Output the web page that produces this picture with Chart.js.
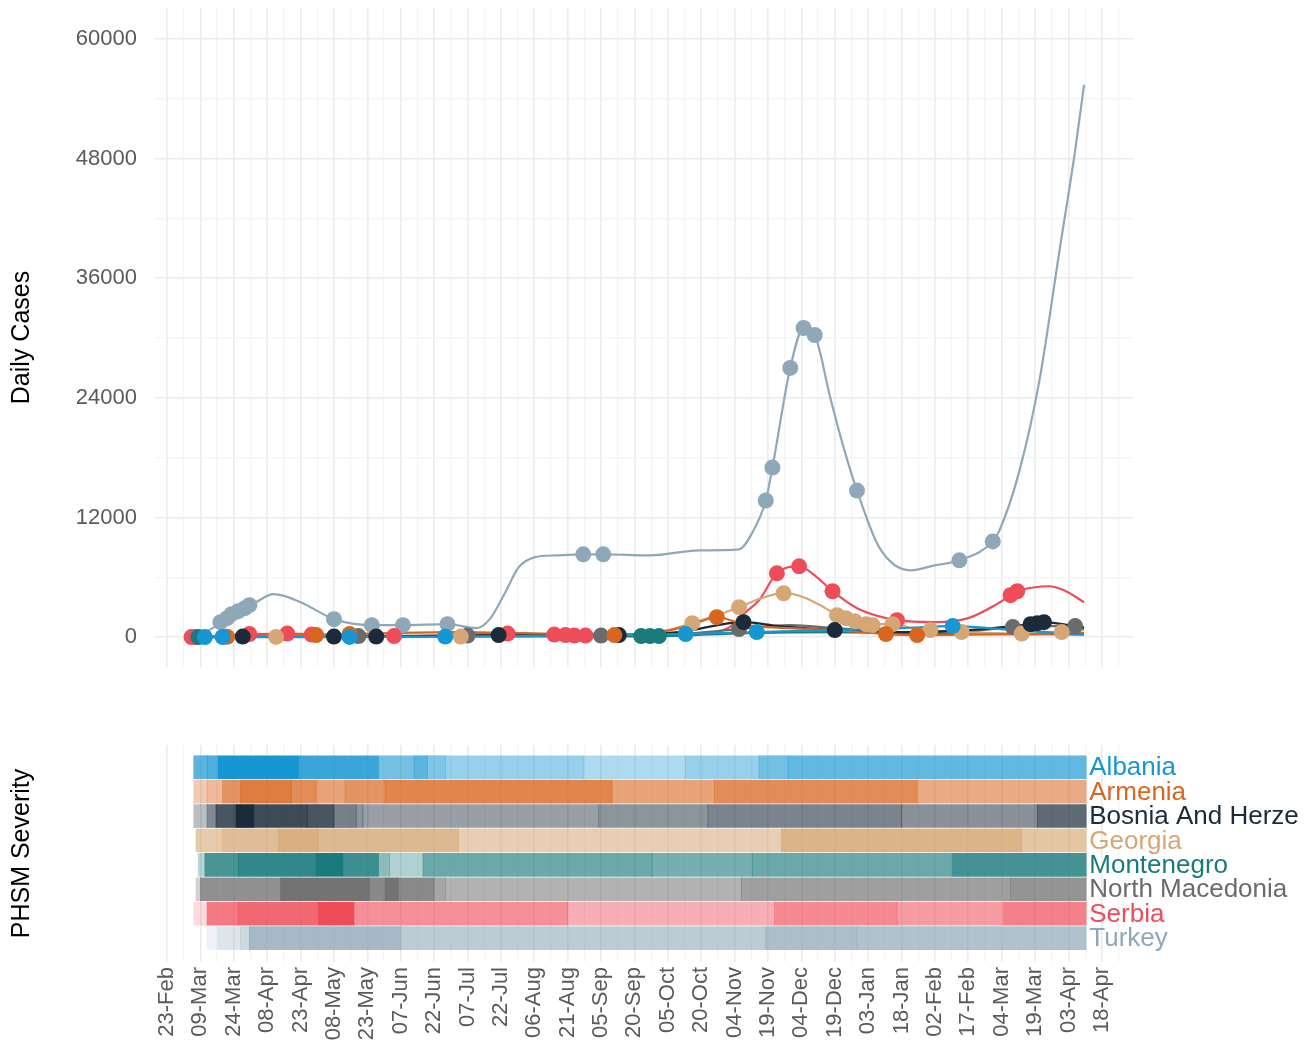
<!DOCTYPE html>
<html>
<head>
<meta charset="utf-8">
<script src="https://cdn.jsdelivr.net/npm/chart.js@4.4.0/dist/chart.umd.min.js"></script>
<style>
  html, body { margin: 0; padding: 0; background: #fff; }
  #lienzo { position: relative; width: 1316px; height: 1044px; overflow: hidden; }
  canvas { position: absolute; left: 0; }
  #casos { top: 0; }
  #phsm { top: 680px; }
</style>
</head>
<body>
<div id="lienzo">
  <canvas id="casos" width="1316" height="680"></canvas>
  <canvas id="phsm" width="1298" height="364"></canvas>
</div>
<script>
// Days are counted from 23-Feb-2020 (day 0)
const tickLabels = ['23-Feb', '09-Mar', '24-Mar', '08-Apr', '23-Apr', '08-May', '23-May', '07-Jun', '22-Jun',
  '07-Jul', '22-Jul', '06-Aug', '21-Aug', '05-Sep', '20-Sep', '05-Oct', '20-Oct', '04-Nov', '19-Nov',
  '04-Dec', '19-Dec', '03-Jan', '18-Jan', '02-Feb', '17-Feb', '04-Mar', '19-Mar', '03-Apr', '18-Apr'];
const tickStepDays = 15;
const caseTicks = [0, 12000, 24000, 36000, 48000, 60000];

const countries = ['Albania', 'Armenia', 'Bosnia And Herzegovina', 'Georgia', 'Montenegro',
  'North Macedonia', 'Serbia', 'Turkey'];
const countryColors = ['#1696d2', '#d9661f', '#1c2b39', '#d5a775', '#1b7a7c', '#6b6b6b', '#ef4c59', '#8fa8b8'];

// ---- daily cases: smoothed curve [day, cases] ----
const albaniaCurve = [[12, 0], [17, 0], [25, 10], [82, 20], [125, 50], [180, 150], [233, 300], [265, 500],
  [300, 700], [330, 900], [353, 1100], [375, 800], [395, 500], [412, 300]];
const armeniaCurve = [[12, 0], [27, 30], [67, 200], [82, 300], [100, 400], [130, 500], [160, 400], [190, 250],
  [201, 200], [215, 300], [230, 900], [240, 1600], [247, 2000], [260, 1200], [280, 900], [300, 700],
  [323, 300], [337, 200], [360, 250], [390, 300], [412, 400]];
const bosniaCurve = [[12, 0], [34, 50], [75, 50], [94, 50], [120, 100], [149, 200], [180, 200], [203, 200],
  [230, 500], [259, 1500], [275, 1100], [300, 700], [330, 500], [360, 700], [388, 1300], [394, 1500], [412, 900]];
const georgiaCurve = [[13, 0], [49, 20], [100, 20], [132, 50], [180, 100], [210, 300], [225, 700], [236, 1400],
  [247, 2200], [257, 3000], [267, 3900], [277, 4400], [286, 4000], [295, 3000], [301, 2200], [309, 1600],
  [317, 1300], [326, 1300], [335, 900], [343, 700], [357, 500], [370, 400], [384, 350], [402, 500], [412, 700]];
const montenegroCurve = [[12, 0], [100, 10], [150, 50], [215, 100], [221, 100], [260, 400], [300, 500],
  [330, 400], [360, 350], [390, 300], [412, 250]];
const macedoniaCurve = [[12, 0], [86, 100], [135, 150], [195, 150], [230, 300], [257, 800], [280, 1200],
  [300, 900], [330, 500], [360, 600], [380, 1000], [395, 1100], [408, 1100], [412, 1000]];
const serbiaCurve = [[12, 0], [25, 100], [40, 300], [55, 350], [70, 250], [90, 100], [110, 100], [130, 250],
  [150, 350], [165, 300], [185, 150], [215, 100], [240, 300], [252, 900], [260, 2500], [266, 3700],
  [274, 6400], [284, 7100], [291, 6200], [299, 4600], [310, 2900], [328, 1700], [345, 1500], [360, 1900],
  [372, 3200], [379, 4200], [382, 4600], [390, 5000], [396, 5100], [403, 4700], [412, 3500]];
const turkeyCurve = [[13, 0], [22, 1100], [27, 1900], [34, 2700], [40, 3500], [48, 4300], [60, 3500],
  [75, 1800], [92, 1200], [106, 1200], [126, 1300], [139, 900], [145, 1800], [152, 4500], [158, 7000],
  [165, 8000], [175, 8200], [187, 8300], [196, 8300], [217, 8200], [239, 8700], [257, 8800], [263, 10500],
  [269, 13700], [272, 17000], [280, 27000], [286, 31000], [291, 30300], [298, 24000], [304, 19000], [310, 14700],
  [320, 9000], [334, 6700], [345, 7200], [356, 7700], [371, 9600], [374, 10700], [383, 16700],
  [392, 25800], [401, 38800], [408, 48800], [412, 55400]];

// ---- daily cases: marked dates [day, cases] ----
const albaniaDots = [[17, 0], [25, 10], [82, 20], [125, 50], [233, 300], [265, 500], [353, 1100]];
const armeniaDots = [[27, 30], [67, 200], [82, 300], [201, 200], [247, 2000], [323, 300], [337, 200]];
const bosniaDots = [[34, 50], [75, 50], [94, 50], [149, 200], [203, 200], [259, 1500], [300, 700],
  [388, 1300], [391, 1400], [394, 1500]];
const georgiaDots = [[49, 20], [132, 50], [236, 1400], [257, 3000], [277, 4400], [301, 2200], [305, 1900],
  [309, 1600], [314, 1300], [317, 1200], [326, 1300], [343, 700], [357, 500], [384, 350], [402, 500]];
const montenegroDots = [[14, 0], [213, 100], [217, 100], [221, 100]];
const macedoniaDots = [[86, 100], [135, 150], [195, 150], [257, 800], [380, 1000], [408, 1100]];
const serbiaDots = [[11, 0], [13, 0], [37, 300], [54, 350], [65, 250], [102, 100], [153, 350], [174, 250],
  [179, 200], [183, 150], [188, 150], [274, 6400], [284, 7100], [299, 4600], [328, 1700], [379, 4200], [382, 4600]];
const turkeyDots = [[24, 1500], [27, 1900], [29, 2300], [32, 2600], [35, 2900], [37, 3200], [75, 1800],
  [92, 1200], [106, 1200], [126, 1300], [187, 8300], [196, 8300], [269, 13700], [272, 17000], [280, 27000],
  [286, 31000], [291, 30300], [310, 14700], [356, 7700], [371, 9600]];

// ---- PHSM severity: [start day, severity 0-100], each step runs to the next one ----
const severityEnd = 413;
const albaniaSeverity = [[12, 70], [18, 75], [23, 100], [59, 85], [95, 60], [111, 70], [117, 55], [125, 45],
  [187, 35], [233, 45], [266, 60], [279, 68]];
const armeniaSeverity = [[12, 35], [18, 45], [25, 70], [33, 85], [56, 75], [67, 60], [80, 70], [98, 80],
  [200, 60], [246, 75], [337, 55]];
const bosniaSeverity = [[12, 30], [18, 55], [22, 80], [31, 100], [39, 85], [63, 80], [75, 60], [85, 50],
  [88, 45], [194, 50], [243, 58], [330, 52], [391, 70]];
const georgiaSeverity = [[13, 60], [25, 75], [50, 90], [68, 80], [131, 55], [276, 85], [384, 65]];
const montenegroSeverity = [[14, 30], [17, 80], [32, 90], [67, 100], [79, 85], [95, 50], [100, 35], [115, 65],
  [218, 60], [263, 65], [353, 82]];
const macedoniaSeverity = [[13, 30], [15, 75], [51, 95], [91, 80], [98, 95], [104, 80], [120, 60], [125, 52],
  [258, 65], [379, 72]];
const serbiaSeverity = [[12, 20], [18, 75], [32, 85], [68, 100], [84, 62], [180, 45], [273, 65], [328, 55],
  [376, 70]];
const turkeySeverity = [[18, 15], [23, 30], [33, 45], [37, 80], [105, 60], [269, 75], [310, 70]];

const curves = [albaniaCurve, armeniaCurve, bosniaCurve, georgiaCurve, montenegroCurve, macedoniaCurve, serbiaCurve, turkeyCurve];
const dots = [albaniaDots, armeniaDots, bosniaDots, georgiaDots, montenegroDots, macedoniaDots, serbiaDots, turkeyDots];
const severities = [albaniaSeverity, armeniaSeverity, bosniaSeverity, georgiaSeverity, montenegroSeverity,
  macedoniaSeverity, serbiaSeverity, turkeySeverity];

const FUENTE = '"Liberation Sans", Arial, Helvetica, sans-serif';
const GRIS_TEXTO = '#5a5a5a';
const X_MIN = -5.4;
const X_MAX = 434;

function conAlfa(hex, alfa) {
  const n = parseInt(hex.slice(1), 16);
  return `rgba(${(n >> 16) & 255}, ${(n >> 8) & 255}, ${n & 255}, ${alfa})`;
}

// major breaks every 15 days, minor halfway between
function ticksDeFechas(axis) {
  const ticks = [];
  for (let i = 0; i < tickLabels.length * 2; i++) ticks.push({ value: i * tickStepDays / 2 });
  axis.ticks = ticks.filter(t => t.value <= X_MAX);
}

// the axes must not push the plot area around
function sinRelleno(axis) {
  axis.paddingTop = 0;
  axis.paddingBottom = 0;
  axis.paddingLeft = 0;
  axis.paddingRight = 0;
}

const gridFechas = {
  color: c => (c.index % 2 === 0 ? '#ebebeb' : '#f4f4f4'),
  lineWidth: c => (c.index % 2 === 0 ? 1.6 : 1.2),
  drawTicks: false,
};

// ============================================================
// TOP: DAILY CASES
// ============================================================
const datasetsCasos = [];
countries.forEach((pais, i) => {
  datasetsCasos.push({
    label: pais + ' dots',
    data: dots[i].map(([x, y]) => ({ x, y })),
    pointRadius: 8,
    pointBackgroundColor: countryColors[i],
    pointBorderWidth: 0,
    showLine: false,
    order: 0,
  });
  datasetsCasos.push({
    label: pais,
    data: curves[i].map(([x, y]) => ({ x, y })),
    borderColor: countryColors[i],
    borderWidth: 2.2,
    pointRadius: 0,
    showLine: true,
    cubicInterpolationMode: 'monotone',
    order: 1,
  });
});

new Chart(document.getElementById('casos'), {
  type: 'scatter',
  data: { datasets: datasetsCasos },
  options: {
    responsive: false,
    animation: false,
    layout: { autoPadding: false, padding: { top: 8, bottom: 13, left: 0, right: 183 } },
    plugins: { legend: { display: false }, tooltip: { enabled: false } },
    scales: {
      x: {
        type: 'linear',
        min: X_MIN,
        max: X_MAX,
        afterBuildTicks: ticksDeFechas,
        afterFit: a => { a.height = 0; sinRelleno(a); },
        ticks: { display: false },
        grid: gridFechas,
        border: { display: false },
      },
      y: {
        min: -3000,
        max: 63100,
        afterBuildTicks: axis => {
          const ticks = [];
          for (let v = 0; v <= caseTicks[caseTicks.length - 1]; v += 6000) ticks.push({ value: v });
          axis.ticks = ticks;
        },
        afterFit: a => { a.width = 155; sinRelleno(a); },
        ticks: {
          callback: v => (caseTicks.includes(v) ? String(v) : ''),
          color: GRIS_TEXTO,
          font: { family: FUENTE, size: 22 },
          padding: 18,
          autoSkip: false,
        },
        grid: {
          color: c => (c.index % 2 === 0 ? '#ebebeb' : '#f4f4f4'),
          lineWidth: c => (c.index % 2 === 0 ? 1.6 : 1.2),
          drawTicks: false,
        },
        border: { display: false },
        title: {
          display: true,
          text: 'Daily Cases',
          color: '#000',
          font: { family: FUENTE, size: 25 },
          padding: { top: 7, bottom: 0 },
        },
      },
    },
  },
});

// ============================================================
// BOTTOM: PHSM SEVERITY TILES
// ============================================================
const etiquetasPaises = {
  id: 'etiquetasPaises',
  afterDatasetsDraw(chart) {
    const { ctx, scales: { x, y } } = chart;
    ctx.save();
    ctx.font = `26px ${FUENTE}`;
    ctx.textBaseline = 'middle';
    countries.forEach((pais, i) => {
      ctx.fillStyle = countryColors[i];
      ctx.fillText(pais, x.getPixelForValue(severityEnd) + 3, y.getPixelForValue(i) + 1);
    });
    ctx.restore();
  },
};

const datasetsPhsm = countries.map((pais, i) => {
  const pasos = severities[i];
  return {
    label: pais,
    data: pasos.map((p, k) => ({
      x: [p[0], k + 1 < pasos.length ? pasos[k + 1][0] : severityEnd],
      y: i,
    })),
    backgroundColor: ctx => conAlfa(countryColors[i], pasos[ctx.dataIndex][1] / 100),
    borderWidth: 0,
    barThickness: 23,
    grouped: false,
  };
});

new Chart(document.getElementById('phsm'), {
  type: 'bar',
  data: { datasets: datasetsPhsm },
  plugins: [etiquetasPaises],
  options: {
    indexAxis: 'y',
    responsive: false,
    animation: false,
    layout: { autoPadding: false, padding: { top: 65, bottom: 0, left: 0, right: 165 } },
    plugins: { legend: { display: false }, tooltip: { enabled: false } },
    scales: {
      x: {
        type: 'linear',
        min: X_MIN,
        max: X_MAX,
        afterBuildTicks: ticksDeFechas,
        afterFit: a => { a.height = 82; sinRelleno(a); },
        ticks: {
          callback: (v, idx) => (idx % 2 === 0 ? tickLabels[idx / 2] : ''),
          color: GRIS_TEXTO,
          font: { family: FUENTE, size: 22 },
          minRotation: 90,
          maxRotation: 90,
          padding: 5,
          autoSkip: false,
        },
        grid: gridFechas,
        border: { display: false },
      },
      y: {
        type: 'linear',
        reverse: true,
        offset: false,
        min: -0.91,
        max: 7.98,
        afterFit: a => { a.width = 155; sinRelleno(a); },
        ticks: { display: false },
        grid: { display: false },
        border: { display: false },
        title: {
          display: true,
          text: 'PHSM Severity',
          color: '#000',
          font: { family: FUENTE, size: 25 },
          padding: { top: 7, bottom: 0 },
        },
      },
    },
  },
});
</script>
</body>
</html>
